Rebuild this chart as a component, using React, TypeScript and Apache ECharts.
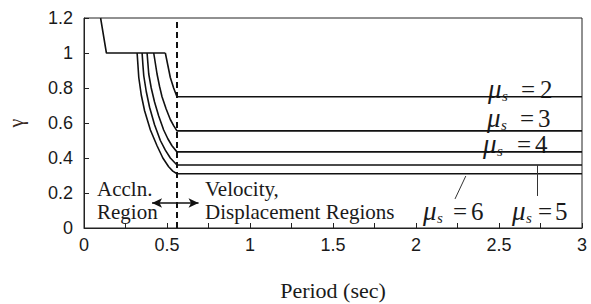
import React, { useEffect, useRef } from "react";
import * as echarts from "echarts";

const xTicks = { min: 0, max: 3, interval: 0.25 };
const yTicks = { min: 0, max: 1.2, interval: 0.2 };

const topBranch: number[][] = [[0.1, 1.2], [0.135, 1.0], [0.49, 1.0]];
const mu2: number[][] = [[0.49, 1.0], [0.505, 0.93], [0.52, 0.86], [0.54, 0.8], [0.56, 0.75], [3, 0.75]];
const mu3: number[][] = [[0.42, 1.0], [0.43, 0.94], [0.44, 0.88], [0.455, 0.81], [0.47, 0.75], [0.495, 0.68], [0.52, 0.62], [0.54, 0.585], [0.56, 0.555], [3, 0.555]];
const mu4: number[][] = [[0.38, 1.0], [0.385, 0.94], [0.39, 0.88], [0.405, 0.8], [0.425, 0.72], [0.45, 0.64], [0.48, 0.56], [0.505, 0.51], [0.53, 0.47], [0.56, 0.435], [3, 0.435]];
const mu5: number[][] = [[0.35, 1.0], [0.355, 0.93], [0.36, 0.87], [0.375, 0.78], [0.395, 0.69], [0.425, 0.59], [0.46, 0.5], [0.49, 0.445], [0.52, 0.4], [0.56, 0.36], [3, 0.36]];
const mu6: number[][] = [[0.32, 1.0], [0.325, 0.93], [0.33, 0.86], [0.345, 0.76], [0.365, 0.67], [0.4, 0.56], [0.44, 0.47], [0.475, 0.4], [0.51, 0.35], [0.535, 0.325], [0.56, 0.31], [3, 0.31]];
const boundaryX = 0.56;
const arrowSpan: number[][] = [[0.41, 0.143], [0.69, 0.143]];
const leader6: number[][] = [[2.3, 0.297], [2.235, 0.166]];
const leader5: number[][] = [[2.73, 0.36], [2.73, 0.183]];

const muLabels = [
  { n: "2", x: 488, y: 89, eq: 33, dg: 52 },
  { n: "3", x: 487, y: 118, eq: 33, dg: 51 },
  { n: "4", x: 483, y: 144, eq: 34, dg: 52 },
  { n: "6", x: 423, y: 211, eq: 30, dg: 48 },
  { n: "5", x: 512, y: 211, eq: 26, dg: 43 },
];
const regionTexts = [
  { t: "Accln.", x: 97, y: 189 },
  { t: "Region", x: 97, y: 212 },
  { t: "Velocity,", x: 205, y: 189 },
  { t: "Displacement Regions", x: 205, y: 212 },
];

const SERIF = "'Liberation Serif', 'DejaVu Serif', serif";
const SANS = "'Liberation Sans', Arial, sans-serif";
const INK = "#1a1a1a";

export default function App() {
  const ref = useRef<HTMLDivElement>(null);
  useEffect(() => {
    if (!ref.current) return;
    const chart = echarts.init(ref.current, null, { renderer: "svg" });
    const lineSeries = (data: number[][]) => ({
      type: "line",
      data,
      showSymbol: false,
      symbol: "none",
      lineStyle: { color: "#111", width: 1.6 },
      silent: true,
    });
    const txt = (text: string, x: number, y: number, size: number, italic: boolean, lh: number) => ({
      type: "text",
      x,
      y,
      silent: true,
      style: {
        text,
        fontFamily: SERIF,
        fontSize: size,
        lineHeight: lh,
        fontStyle: italic ? "italic" : "normal",
        fill: INK,
        verticalAlign: "middle",
      },
    });
    chart.setOption({
      animation: false,
      grid: { left: 84, right: 9, top: 18, bottom: 76, show: true, borderColor: "#222", borderWidth: 1, outerBoundsMode: "none", containLabel: false },
      xAxis: {
        type: "value",
        ...xTicks,
        name: "Period (sec)",
        nameLocation: "middle",
        nameGap: 51,
        nameTextStyle: { fontFamily: SERIF, fontSize: 22, color: INK },
        axisLine: { show: true, lineStyle: { color: "#222" } },
        axisTick: { show: true, inside: true, length: 5, lineStyle: { color: "#222" } },
        splitLine: { show: false },
        axisLabel: {
          fontFamily: SANS,
          fontSize: 18,
          color: INK,
          margin: 8,
          formatter: (v: number) => (Math.abs(v * 2 - Math.round(v * 2)) < 1e-6 ? String(v) : ""),
        },
      },
      yAxis: {
        type: "value",
        ...yTicks,
        name: "γ",
        nameLocation: "middle",
        nameRotate: 90,
        nameGap: 58,
        nameTextStyle: { fontFamily: SERIF, fontSize: 20, color: "#3a2a22" },
        axisLine: { show: true, lineStyle: { color: "#222" } },
        axisTick: { show: true, inside: true, length: 5, lineStyle: { color: "#222" } },
        splitLine: { show: false },
        axisLabel: { fontFamily: SANS, fontSize: 18, color: INK, margin: 11 },
      },
      series: [
        lineSeries(topBranch),
        lineSeries(mu2),
        lineSeries(mu3),
        lineSeries(mu4),
        lineSeries(mu5),
        lineSeries(mu6),
        {
          type: "line",
          data: [],
          silent: true,
          markLine: {
            silent: true,
            animation: false,
            label: { show: false },
            data: [
              [
                { coord: [boundaryX, yTicks.min], symbol: "none", lineStyle: { type: [6, 4], width: 2, color: "#111" } },
                { coord: [boundaryX, yTicks.max], symbol: "none" },
              ],
              [
                { coord: arrowSpan[0], symbol: "arrow", symbolSize: [7, 10], lineStyle: { type: "solid", width: 1.5, color: "#111" } },
                { coord: arrowSpan[1], symbol: "arrow", symbolSize: [7, 10] },
              ],
              [
                { coord: leader6[0], symbol: "none", lineStyle: { type: "solid", width: 1, color: "#333" } },
                { coord: leader6[1], symbol: "none" },
              ],
              [
                { coord: leader5[0], symbol: "none", lineStyle: { type: "solid", width: 1, color: "#333" } },
                { coord: leader5[1], symbol: "none" },
              ],
            ],
          },
        },
      ],
      graphic: [
        ...regionTexts.map((r) => ({
          type: "text",
          x: r.x,
          y: r.y,
          style: { text: r.t, fontFamily: SERIF, fontSize: 21, fill: INK, verticalAlign: "middle" },
          silent: true,
        })),
        ...muLabels.map((m) => ({
          type: "group",
          x: m.x,
          y: m.y,
          silent: true,
          children: [
            txt("μ", 0, 0, 27, true, 20),
            txt("s", 14, 7, 15, true, 10),
            txt("=", m.eq, 0, 25, false, 18),
            txt(m.n, m.dg, 0, 25, false, 18),
          ],
        })),
      ],
    });
    return () => chart.dispose();
  }, []);
  return <div ref={ref} style={{ width: 591, height: 304, position: "absolute", left: 0, top: 0 }} />;
}
